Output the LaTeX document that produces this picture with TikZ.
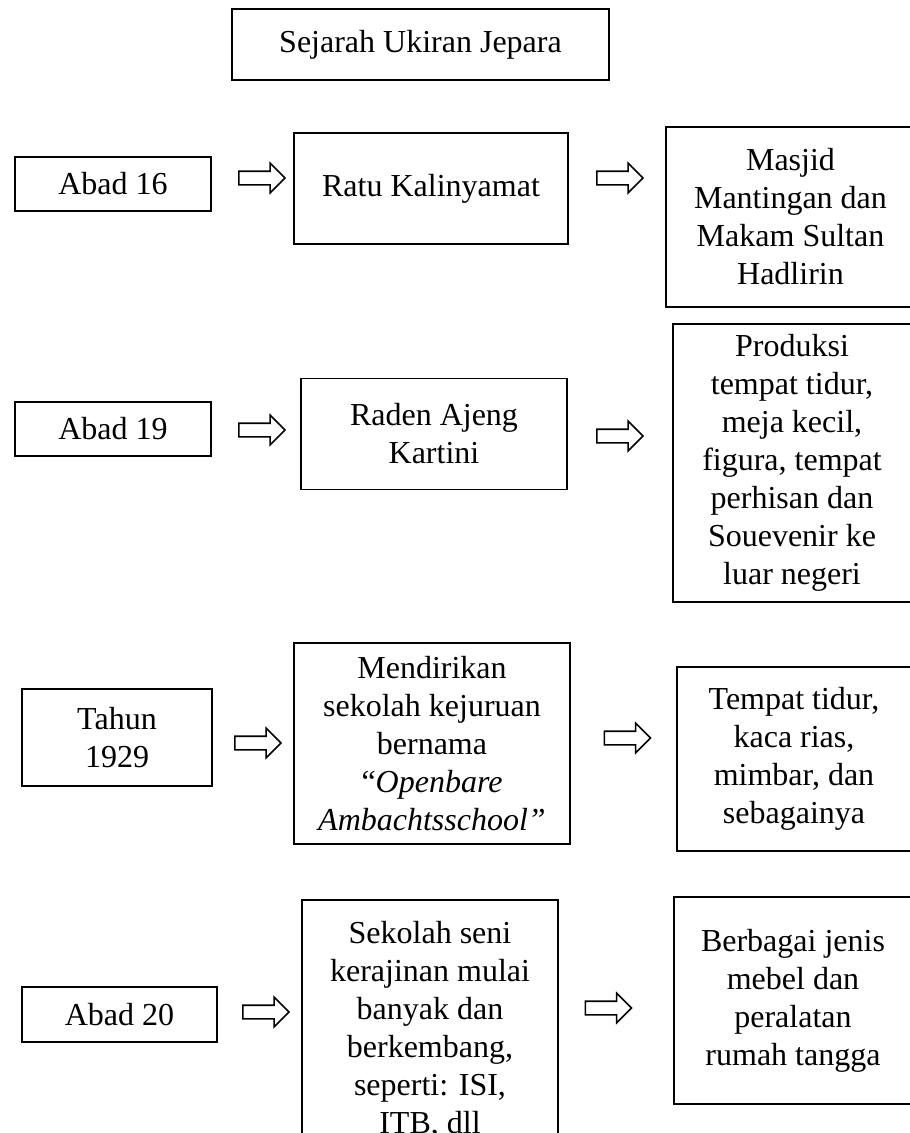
\documentclass[tikz,border=0pt]{standalone}
\usepackage{fontspec}
\setmainfont{Liberation Serif}
\usetikzlibrary{shapes.arrows}
\tikzset{
  box/.style={draw, line width=1.6pt, align=center, inner sep=0pt,
    font=\fontsize{32}{38}\selectfont},
  hollow/.style={draw, line width=1.6pt, single arrow, inner xsep=0pt,
    inner ysep=6pt, minimum height=46pt, minimum width=28pt,
    single arrow head extend=8pt}
}
\begin{document}
\begin{tikzpicture}[x=1pt, y=-1pt]
      \useasboundingbox (0,0) rectangle (910,1133);
      \clip (0,0) rectangle (910,1133);
      \draw
        (420.5,44.5) node[box, minimum width=377, minimum height=71] (judul){Sejarah Ukiran Jepara}
        (113,184) node[box, minimum width=196, minimum height=54] (a16){Abad 16}
        (431,188.5) node[box, minimum width=274, minimum height=111] (ratu){Ratu Kalinyamat}
        (790.5,217) node[box, minimum width=249, minimum height=180] (masjid){Masjid\\Mantingan dan\\Makam Sultan\\Hadlirin}
        (113,429) node[box, minimum width=196, minimum height=54] (a19){Abad 19}
        (434,434) node[box, minimum width=266, minimum height=111] (kartini){Raden Ajeng\\Kartini}
        (792,463) node[box, minimum width=238, minimum height=278] (produksi){Produksi\\tempat tidur,\\meja kecil,\\figura, tempat\\perhisan dan\\Souevenir ke\\luar negeri}
        (117,737.5) node[box, minimum width=190, minimum height=97] (t1929){Tahun\\1929}
        (432,743.5) node[box, minimum width=276, minimum height=201] (sekolah){Mendirikan\\sekolah kejuruan\\bernama\\“\textit{Openbare}\\\textit{Ambachtsschool”}}
        (794,759) node[box, minimum width=234, minimum height=184] (tempat){Tempat tidur,\\kaca rias,\\mimbar, dan\\sebagainya}
        (119.5,1014.5) node[box, minimum width=195, minimum height=55] (a20){Abad 20}
        (430,1030) node[box, minimum width=256, minimum height=260] (seni){Sekolah seni\\kerajinan mulai\\banyak dan\\berkembang,\\seperti: ISI,\\ITB, dll}
        (793,1000.5) node[box, minimum width=238, minimum height=207] (mebel){Berbagai jenis\\mebel dan\\peralatan\\rumah tangga};
      \begin{scope}
        \node[hollow] (p1) at (258.5,178) {};
        \node[hollow] (p2) at (616.5,178) {};
        \node[hollow] (p3) at (258.5,430) {};
        \node[hollow] (p4) at (616.5,436) {};
        \node[hollow] (p5) at (254.5,743) {};
        \node[hollow] (p6) at (624,738) {};
        \node[hollow] (p7) at (262.5,1012) {};
        \node[hollow] (p8) at (605,1008) {};
      \end{scope}
    \end{tikzpicture}
\end{document}
